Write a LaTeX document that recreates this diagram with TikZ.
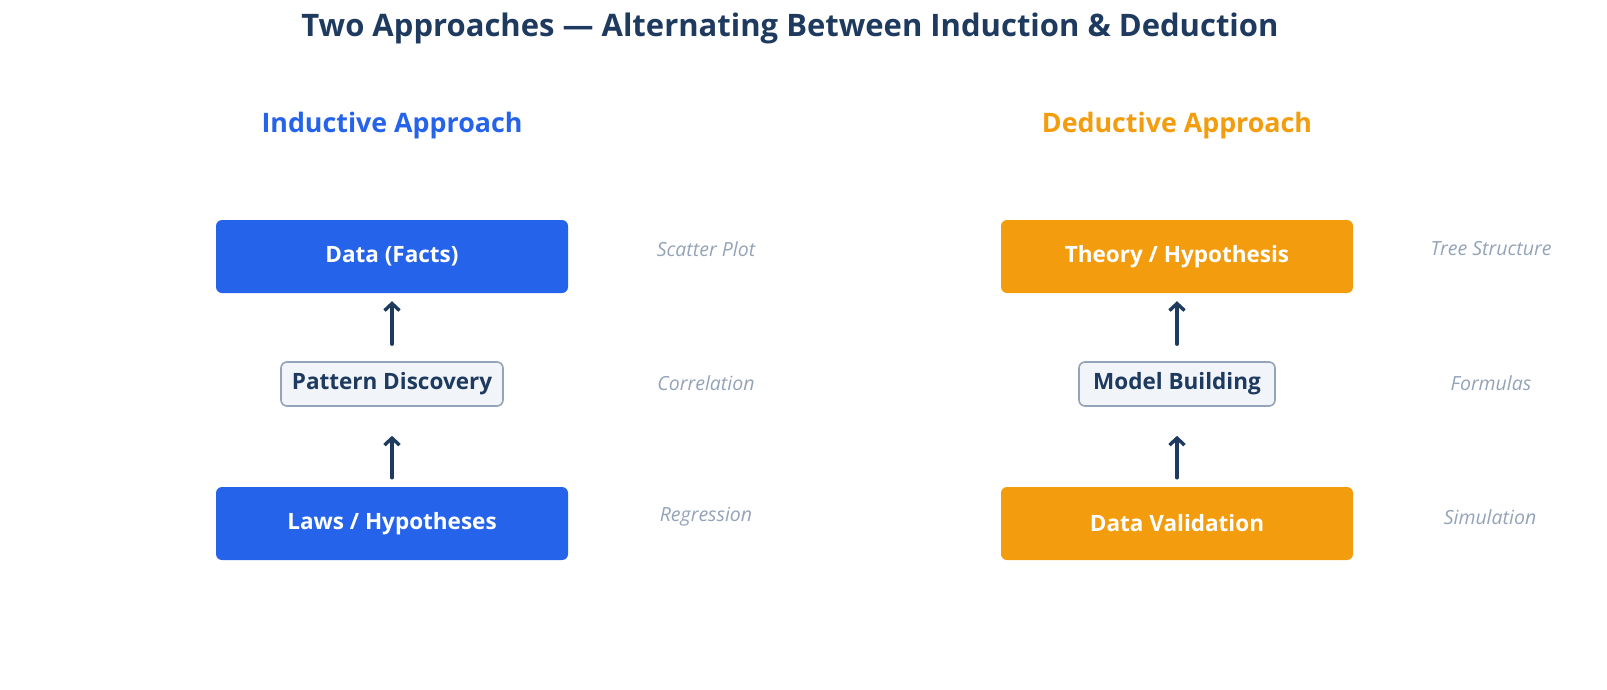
\documentclass[tikz,border=0pt]{standalone}
\usepackage{fontspec}
\setmainfont{Open Sans}
\usetikzlibrary{arrows.meta}

\definecolor{navy}{HTML}{1E3A5F}
\definecolor{indblue}{HTML}{2563EB}
\definecolor{dedorange}{HTML}{F39C0E}
\definecolor{midfill}{HTML}{F1F5F9}
\definecolor{midline}{HTML}{94A3B8}
\definecolor{notegray}{HTML}{94A3B8}

\begin{document}
\begin{tikzpicture}[x=1pt, y=-1pt, line cap=round, line join=round,
  bigbox/.style={rounded corners=6pt, minimum width=352pt, minimum height=73pt,
    inner sep=0pt, text=white, font=\fontsize{22.5}{26}\selectfont\bfseries},
  midbox/.style={draw=midline, line width=1.6pt, fill=midfill, rounded corners=6pt,
    minimum height=44pt, inner sep=0pt, text=navy, font=\fontsize{22.5}{26}\selectfont\bfseries},
  note/.style={text=notegray, font=\fontsize{19.5}{23}\selectfont\itshape},
  heading/.style={font=\fontsize{26.8}{31}\selectfont\bfseries},
  uparrow/.style={draw=navy, line width=3.4pt, -{Straight Barb[length=7pt,width=15pt]}}]

% page frame (pixel grid of the reference)
\useasboundingbox (0,0) rectangle (1607,689);

% title
\node[text=navy, font=\fontsize{31}{35}\selectfont\bfseries] (title) at (790,28)
  {Two Approaches — Alternating Between Induction \& Deduction};

% ---- inductive side ----
\node[heading, text=indblue] (indHead) at (392,126) {Inductive Approach};
\node[bigbox, fill=indblue] (indTop) at (392,256.5) {Data (Facts)};
\node[midbox, minimum width=222pt] (indMid) at (392,384) {Pattern Discovery};
\node[bigbox, fill=indblue] (indBot) at (392,523.5) {Laws / Hypotheses};

\draw[uparrow, shorten <=17pt, shorten >=8pt] (indMid.north) -- (indTop.south);
\draw[uparrow, shorten <=9pt, shorten >=29pt] (indBot.north) -- (indMid.south);

\node[note] (indNoteA) at (706,249) {Scatter Plot};
\node[note] (indNoteB) at (706,383) {Correlation};
\node[note] (indNoteC) at (706,517) {Regression};

% ---- deductive side ----
\node[heading, text=dedorange] (dedHead) at (1177,126) {Deductive Approach};
\node[bigbox, fill=dedorange] (dedTop) at (1177,256.5) {Theory / Hypothesis};
\node[midbox, minimum width=196pt] (dedMid) at (1177,384) {Model Building};
\node[bigbox, fill=dedorange] (dedBot) at (1177,523.5) {Data Validation};

\draw[uparrow, shorten <=17pt, shorten >=8pt] (dedMid.north) -- (dedTop.south);
\draw[uparrow, shorten <=9pt, shorten >=29pt] (dedBot.north) -- (dedMid.south);

\node[note] (dedNoteA) at (1491,249) {Tree Structure};
\node[note] (dedNoteB) at (1491,383) {Formulas};
\node[note] (dedNoteC) at (1490,517) {Simulation};

\end{tikzpicture}
\end{document}
